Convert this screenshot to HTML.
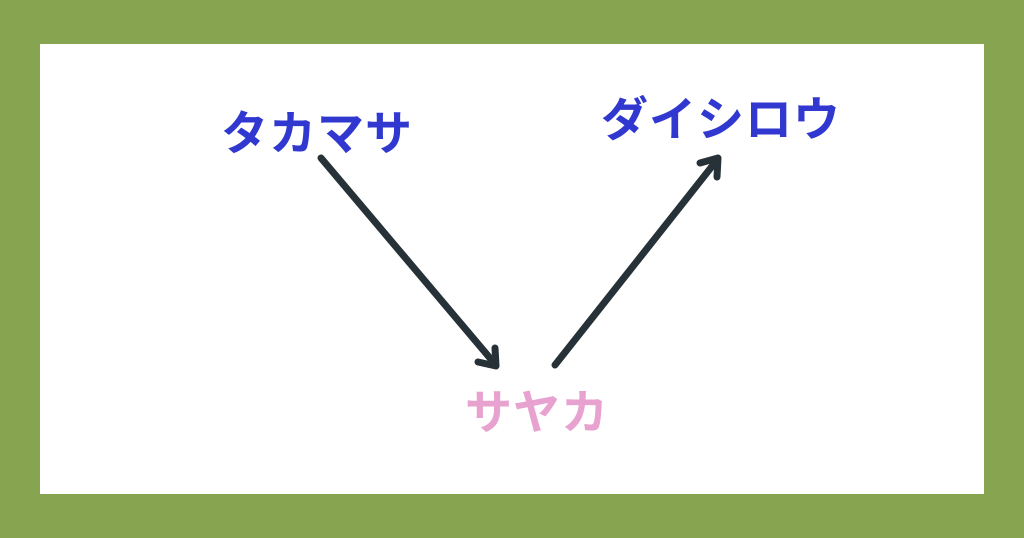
<!DOCTYPE html>
<html><head><meta charset="utf-8"><style>
html,body{margin:0;padding:0;}
body{width:1024px;height:538px;background:#87a550;position:relative;overflow:hidden;font-family:"Liberation Sans","Noto Sans CJK JP",sans-serif;font-weight:bold;}
.panel{position:absolute;left:40px;top:44px;width:944px;height:450px;background:#fff;}
.t{position:absolute;font-size:47px;line-height:1;white-space:nowrap;letter-spacing:1px;}
</style></head><body>
<div class="panel"></div>
<div class="t" style="left:221px;top:110px;color:#3038d0;">タカマサ</div>
<div class="t" style="left:601px;top:96px;color:#3038d0;">ダイシロウ</div>
<div class="t" style="left:465px;top:389px;color:#e8a2cf;">サヤカ</div>
<svg width="1024" height="538" style="position:absolute;left:0;top:0">
<g stroke="#263238" stroke-width="7" fill="none" stroke-linecap="round" stroke-linejoin="round">
<line x1="321" y1="158" x2="495" y2="364"/>
<polyline points="478,362 496,366 495,348"/>
<line x1="555" y1="365" x2="717" y2="160"/>
<polyline points="700,163 718,158 717,177"/>
</g></svg>
</body></html>
